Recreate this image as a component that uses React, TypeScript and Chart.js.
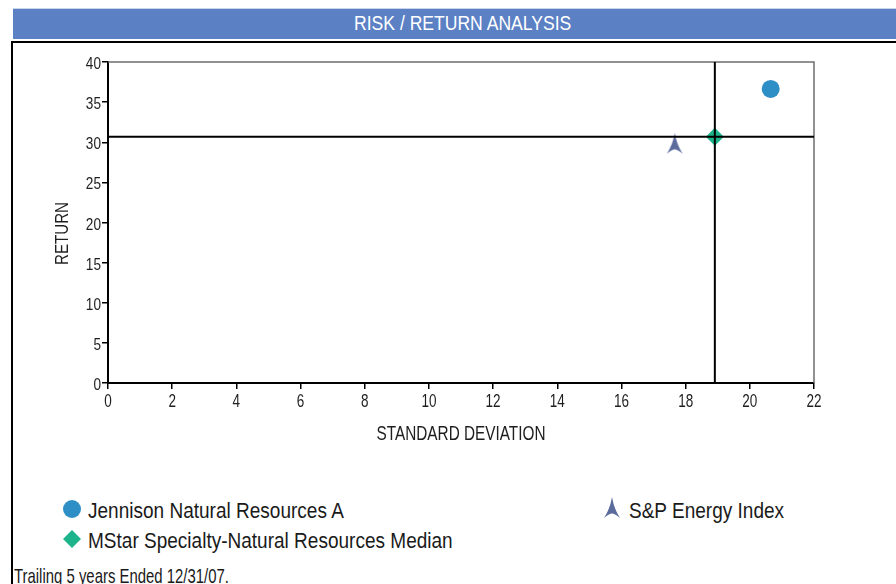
import React, { useEffect, useRef } from 'react';
import { Chart, registerables } from 'chart.js';

Chart.register(...registerables);

// ---------- data ----------
const seriesNames = [
  'Jennison Natural Resources A',
  'MStar Specialty-Natural Resources Median',
  'S&P Energy Index',
];
const stdDeviation = [20.65, 18.91, 17.66];
const returns = [36.65, 30.67, 29.8];
const medianIndex = 1;
const xMin = 0;
const xMax = 22;
const xStep = 2;
const yMin = 0;
const yMax = 40;
const yStep = 5;
const xAxisTitle = 'STANDARD DEVIATION';
const yAxisTitle = 'RETURN';
const chartTitle = 'RISK / RETURN ANALYSIS';
const footnote = 'Trailing 5 years Ended 12/31/07.';

// ---------- styles ----------
const colors = ['#2e8ec6', '#1db38b', '#5a6b9c'];
const FAMILY = "'Liberation Sans', Arial, sans-serif";
const CANVAS_TOP = 44;

function makeArrow(color: string): HTMLCanvasElement {
  const c = document.createElement('canvas');
  c.width = 18;
  c.height = 22;
  const ctx = c.getContext('2d')!;
  ctx.fillStyle = color;
  ctx.beginPath();
  ctx.moveTo(9, 0);
  ctx.quadraticCurveTo(11, 12, 17, 21);
  ctx.quadraticCurveTo(12, 16.5, 9, 16.5);
  ctx.quadraticCurveTo(6, 16.5, 1, 21);
  ctx.quadraticCurveTo(7, 12, 9, 0);
  ctx.closePath();
  ctx.fill();
  return c;
}

// draws condensed text; (x, y) = anchor at the cap-height centre
function drawNarrowText(
  ctx: CanvasRenderingContext2D,
  text: string,
  x: number,
  y: number,
  size: number,
  sx: number,
  align: CanvasTextAlign,
  rotate = false,
) {
  ctx.save();
  ctx.translate(x, y);
  if (rotate) ctx.rotate(-Math.PI / 2);
  ctx.scale(sx, 1);
  ctx.font = `${size}px ${FAMILY}`;
  ctx.fillStyle = '#1e1e1e';
  ctx.textAlign = align;
  ctx.textBaseline = 'alphabetic';
  ctx.fillText(text, 0, 0.358 * size);
  ctx.restore();
}

const framePlugin = {
  id: 'frameAndCross',
  beforeDatasetsDraw(chart: any) {
    const { ctx, chartArea } = chart;
    ctx.save();
    ctx.strokeStyle = '#6e6e6e';
    ctx.lineWidth = 1.5;
    ctx.beginPath();
    ctx.moveTo(chartArea.left, chartArea.top);
    ctx.lineTo(chartArea.right, chartArea.top);
    ctx.lineTo(chartArea.right, chartArea.bottom);
    ctx.stroke();
    ctx.restore();
  },
  afterDatasetsDraw(chart: any) {
    const { ctx, chartArea, scales } = chart;
    const px = scales.x.getPixelForValue(stdDeviation[medianIndex]);
    const py = scales.y.getPixelForValue(returns[medianIndex]);
    ctx.save();
    ctx.strokeStyle = '#000';
    ctx.lineWidth = 2;
    ctx.beginPath();
    ctx.moveTo(px, chartArea.top);
    ctx.lineTo(px, chartArea.bottom);
    ctx.moveTo(chartArea.left, py);
    ctx.lineTo(chartArea.right, py);
    ctx.stroke();
    ctx.restore();
  },
  afterDraw(chart: any) {
    const { ctx, chartArea, scales } = chart;
    const xs = scales.x;
    const ys = scales.y;
    // y tick labels
    ys.ticks.forEach((t: any) => {
      const py = ys.getPixelForValue(t.value);
      drawNarrowText(ctx, String(t.label), chartArea.left - 7, py + 1, 17, 0.8, 'right');
    });
    // x tick labels
    xs.ticks.forEach((t: any) => {
      const px = xs.getPixelForValue(t.value);
      drawNarrowText(ctx, String(t.label), px, chartArea.bottom + 17, 18.5, 0.73, 'center');
    });
    // axis titles
    drawNarrowText(ctx, xAxisTitle, (chartArea.left + chartArea.right) / 2, chartArea.bottom + 49.5, 21, 0.73, 'center');
    drawNarrowText(ctx, yAxisTitle, 62, (chartArea.top + chartArea.bottom) / 2 + 11, 18, 0.84, 'center', true);
  },
};

function RiskReturnChart() {
  const ref = useRef<HTMLCanvasElement | null>(null);
  useEffect(() => {
    if (!ref.current) return;
    const arrow = makeArrow(colors[2]);
    const pointStyles: any[] = ['circle', 'rectRot', arrow];
    const radii = [9, 9, 10];
    const chart = new Chart(ref.current, {
      type: 'scatter',
      data: {
        datasets: seriesNames.map((name, i) => ({
          label: name,
          data: [{ x: stdDeviation[i], y: returns[i] }],
          backgroundColor: colors[i],
          borderColor: colors[i],
          borderWidth: 0,
          pointStyle: pointStyles[i],
          pointRadius: radii[i],
          showLine: false,
        })),
      },
      options: {
        animation: false,
        responsive: false,
        layout: { padding: { left: 0, right: 82, top: 18, bottom: 0 } },
        plugins: { legend: { display: false }, tooltip: { enabled: false } },
        scales: {
          x: {
            type: 'linear',
            min: xMin,
            max: xMax,
            ticks: { stepSize: xStep, display: false },
            grid: { drawOnChartArea: false, drawTicks: true, tickLength: 6, color: '#000', lineWidth: 1.5 },
            border: { display: true, color: '#000', width: 2 },
            title: { display: false, text: xAxisTitle },
            afterFit: (s: any) => { s.height = 81; },
          },
          y: {
            type: 'linear',
            min: yMin,
            max: yMax,
            ticks: { stepSize: yStep, display: false },
            grid: { drawOnChartArea: false, drawTicks: true, tickLength: 6, color: '#000', lineWidth: 1.5 },
            border: { display: true, color: '#000', width: 2 },
            title: { display: false, text: yAxisTitle },
            afterFit: (s: any) => { s.width = 108; },
          },
        },
      } as any,
      plugins: [framePlugin],
    });
    return () => chart.destroy();
  }, []);
  return (
    <canvas
      ref={ref}
      width={896}
      height={420}
      style={{ position: 'absolute', left: 0, top: CANVAS_TOP, display: 'block' }}
    />
  );
}

function Marker({ kind, color }: { kind: number; color: string }) {
  if (kind === 0) {
    return (
      <svg width="18" height="18" viewBox="0 0 18 18">
        <circle cx="9" cy="9" r="9" fill={color} />
      </svg>
    );
  }
  if (kind === 1) {
    return (
      <svg width="18" height="18" viewBox="0 0 18 18">
        <polygon points="9,0 18,9 9,18 0,9" fill={color} />
      </svg>
    );
  }
  return (
    <svg width="18" height="22" viewBox="0 0 18 22">
      <path d="M9 0 Q11 12 17 21 Q12 16.5 9 16.5 Q6 16.5 1 21 Q7 12 9 0 Z" fill={color} />
    </svg>
  );
}

// text helper: top-left anchored narrow text, capCenter = y of cap-height centre
function NarrowText({
  text, left, capCenter, size, sx, color = '#1a1a1a',
}: { text: string; left: number; capCenter: number; size: number; sx: number; color?: string }) {
  return (
    <div
      style={{
        position: 'absolute',
        left,
        top: capCenter - 0.4885 * size,
        fontSize: size,
        lineHeight: `${size}px`,
        height: size,
        color,
        whiteSpace: 'nowrap',
        transform: `scaleX(${sx})`,
        transformOrigin: 'left center',
      }}
    >
      {text}
    </div>
  );
}

const legendPos = [
  { mx: 72, my: 508.5, tx: 88, ty: 511 },
  { mx: 72, my: 538.5, tx: 88, ty: 540.5 },
  { mx: 612, my: 508, tx: 629, ty: 511 },
];

export default function App() {
  return (
    <div
      style={{
        position: 'fixed',
        left: 0,
        top: 0,
        width: 896,
        height: 584,
        overflow: 'hidden',
        background: '#fff',
        fontFamily: FAMILY,
      }}
    >
      <div
        style={{
          position: 'absolute',
          left: 13,
          top: 8,
          width: 900,
          height: 30,
          borderTop: '1px solid #c9d5ee',
          background: '#5b80c4',
        }}
      />
      <div
        style={{
          position: 'absolute',
          left: 13,
          width: 900,
          top: 24 - 0.4885 * 19.5,
          height: 19.5,
          fontSize: 19.5,
          lineHeight: '19.5px',
          textAlign: 'center',
          color: '#fff',
          whiteSpace: 'nowrap',
        }}
      >
        <span style={{ display: 'inline-block', transform: 'scaleX(0.9)', transformOrigin: 'center' }}>
          {chartTitle}
        </span>
      </div>
      <div
        style={{
          position: 'absolute',
          left: 11,
          top: 41,
          width: 1000,
          height: 1000,
          borderLeft: '2px solid #000',
          borderTop: '2px solid #000',
        }}
      />
      <RiskReturnChart />
      {seriesNames.map((name, i) => {
        const p = legendPos[i];
        const h = i === 2 ? 22 : 18;
        return (
          <React.Fragment key={name}>
            <div style={{ position: 'absolute', left: p.mx - 9, top: p.my - h / 2, width: 18, height: h, lineHeight: 0 }}>
              <Marker kind={i} color={colors[i]} />
            </div>
            <NarrowText text={name} left={p.tx} capCenter={p.ty} size={22.3} sx={0.853} />
          </React.Fragment>
        );
      })}
      <NarrowText text={footnote} left={14} capCenter={575.5} size={21} sx={0.71} />
    </div>
  );
}
